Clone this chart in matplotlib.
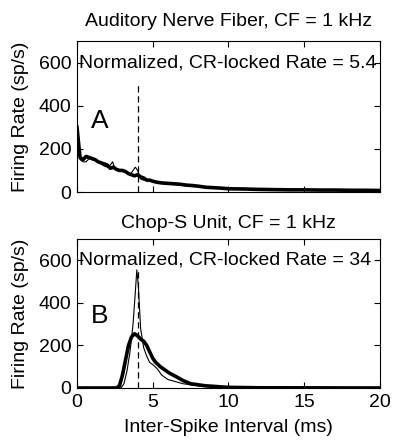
import matplotlib
matplotlib.use('Agg')
import matplotlib.pyplot as plt

plt.rcParams['font.family'] = ['Liberation Sans', 'DejaVu Sans']
plt.rcParams['font.size'] = 14

# Panel A: auditory nerve fiber interval histograms
a_x = [0, 0.1, 0.2, 0.4, 0.6, 0.8, 1.0, 1.2, 1.4, 1.6, 1.8, 2.0, 2.2, 2.4, 2.6, 2.8, 3.0,
       3.2, 3.4, 3.6, 3.8, 4.0, 4.2, 4.4, 4.6, 4.8, 5.0, 5.3, 5.6, 6.0, 6.4, 6.8, 7.2, 7.6,
       8.0, 8.5, 9.0, 9.5, 10, 11, 12, 13, 14, 15, 16, 17, 18, 19, 20]
a_thick = [300, 230, 160, 150, 165, 160, 155, 150, 140, 135, 130, 125, 110, 115, 105, 100, 100,
           95, 85, 80, 75, 80, 70, 65, 55, 55, 50, 45, 42, 40, 38, 36, 32, 30,
           27, 22, 20, 18, 15, 14, 12, 11, 10, 10, 9, 9, 8, 8, 7]
a_thin_x = [0, 0.1, 0.2, 0.4, 0.6, 0.8, 1.0, 1.4, 1.8, 2.0, 2.2, 2.35, 2.5, 2.7, 3.0,
            3.3, 3.5, 3.7, 3.85, 4.0, 4.2, 4.4, 4.7, 5.0, 5.5, 6.0, 6.5, 7.0, 8.0, 9.0, 10,
            12, 14, 16, 18, 20]
a_thin = [310, 200, 150, 140, 140, 155, 150, 140, 120, 115, 125, 140, 110, 100, 95,
          90, 80, 100, 115, 100, 60, 55, 55, 48, 45, 40, 35, 30, 25, 20, 15,
          12, 10, 9, 8, 7]

# Panel B: chop-S unit
b_x = [0, 2.6, 2.8, 3.0, 3.2, 3.4, 3.6, 3.8, 4.0, 4.2, 4.4, 4.6, 4.8, 5.0, 5.2, 5.5, 5.8,
       6.1, 6.5, 7.0, 7.5, 8.0, 8.5, 9.0, 9.5, 10, 11, 12, 20]
b_thick = [0, 0, 10, 60, 130, 200, 240, 255, 245, 230, 220, 200, 170, 140, 120, 100, 85,
           70, 55, 35, 20, 15, 10, 8, 5, 3, 2, 1, 0]
b_thin_x = [0, 2.9, 3.1, 3.3, 3.5, 3.7, 3.85, 3.95, 4.05, 4.2, 4.4, 4.6, 4.8, 5.0, 5.3, 5.6,
            6.0, 6.5, 7.0, 7.5, 8.0, 9.0, 10, 12, 20]
b_thin = [0, 0, 20, 80, 170, 300, 450, 555, 480, 280, 190, 150, 120, 110, 90, 60,
          40, 30, 20, 15, 10, 5, 2, 1, 0]

cr_interval = 4.0          # ms, dashed marker
dash_top = [510, 560]
titles = ['Auditory Nerve Fiber, CF = 1 kHz', 'Chop-S Unit, CF = 1 kHz']
notes = ['Normalized, CR-locked Rate = 5.4', 'Normalized, CR-locked Rate = 34']
letters = ['A', 'B']

fig = plt.figure(figsize=(3.94, 4.42), dpi=100)
ax1 = fig.add_axes([0.1954, 0.5656, 0.769, 0.3416])
ax2 = fig.add_axes([0.1954, 0.1222, 0.769, 0.337])

panels = [(ax1, a_thin_x, a_thin, a_x, a_thick), (ax2, b_thin_x, b_thin, b_x, b_thick)]
pads = [11, 8]
for i, (ax, tx, ty, kx, ky) in enumerate(panels):
    ax.plot(tx, ty, color='black', lw=0.8)
    ax.plot(kx, ky, color='black', lw=2.6, solid_joinstyle='round')
    ax.plot([cr_interval, cr_interval], [0, dash_top[i]], color='black', lw=0.9,
            dashes=(5, 3))
    ax.set_xlim(0, 20)
    ax.set_ylim(0, 700)
    ax.set_xticks([0, 5, 10, 15, 20])
    ax.set_yticks([0, 200, 400, 600])
    ax.tick_params(direction='in', top=True, right=True, length=4, width=0.8,
                   labelsize=14, pad=4)
    for s in ax.spines.values():
        s.set_linewidth(0.8)
    ax.set_title(titles[i], fontsize=14, pad=pads[i])
    ax.text(0.15, 600, notes[i], fontsize=14, va='center', ha='left')
    ax.text(1.5, 330 if i == 0 else 340, letters[i], fontsize=19, ha='center', va='center')
    ax.set_ylabel('Firing Rate (sp/s)', fontsize=14, labelpad=7)

ax1.tick_params(labelbottom=False)
ax2.set_xlabel('Inter-Spike Interval (ms)', fontsize=14, labelpad=6)

fig.savefig('out.png', dpi=100)
